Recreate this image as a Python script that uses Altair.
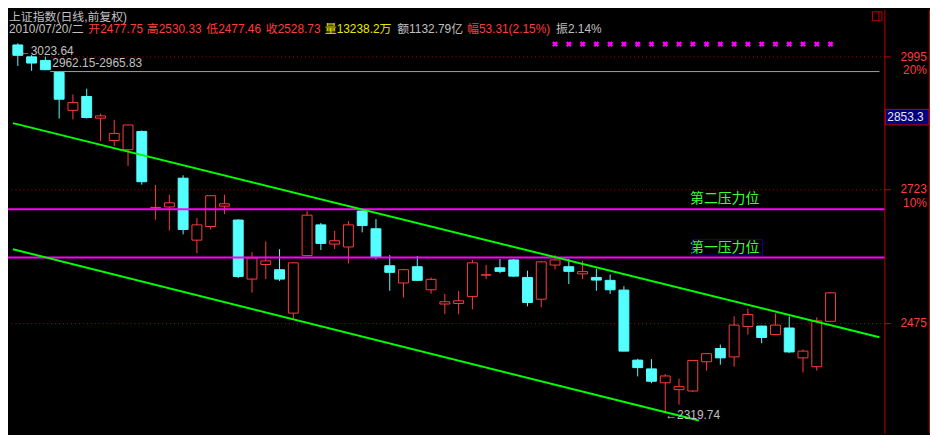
import altair as alt
import pandas as pd

# ---------------- data ----------------
opens = [3020.0, 2994.4, 2986.7, 2961.0, 2881.8, 2910.6, 2865.8, 2820.3, 2801.8, 2838.6,
         2687.3, 2689.1, 2745.2, 2626.0, 2651.8, 2690.8, 2664.1, 2553.8, 2580.6, 2571.0,
         2492.3, 2597.1, 2654.9, 2618.6, 2613.2, 2681.4, 2647.5, 2578.3, 2546.7, 2576.5,
         2534.3, 2508.6, 2509.6, 2521.9, 2561.1, 2574.6, 2589.1, 2556.8, 2517.3, 2579.6,
         2576.5, 2563.4, 2556.8, 2551.5, 2533.8, 2409.8, 2394.7, 2371.0, 2359.4, 2357.1,
         2407.0, 2430.0, 2415.4, 2468.6, 2469.3, 2454.3, 2465.9, 2413.7, 2398.5, 2477.75]
highs = [3023.64, 2998.0, 2995.0, 2962.15, 2914.7, 2926.9, 2875.0, 2862.4, 2852.4, 2840.5,
         2731.8, 2712.8, 2750.9, 2667.9, 2712.0, 2712.8, 2665.5, 2603.5, 2623.6, 2609.0,
         2585.0, 2681.4, 2658.6, 2643.8, 2662.2, 2683.3, 2666.0, 2598.1, 2572.8, 2596.3,
         2556.8, 2526.7, 2532.0, 2589.1, 2580.1, 2590.9, 2590.9, 2569.3, 2587.3, 2598.1,
         2590.9, 2587.3, 2572.8, 2562.1, 2540.9, 2412.0, 2411.5, 2385.9, 2378.1, 2409.8,
         2421.5, 2436.8, 2486.6, 2500.4, 2470.0, 2491.7, 2486.6, 2428.3, 2484.9, 2530.33]
lows = [2974.9, 2964.5, 2965.83, 2865.0, 2863.0, 2865.0, 2819.5, 2809.0, 2769.0, 2732.4,
        2664.7, 2644.4, 2637.0, 2601.7, 2646.2, 2675.3, 2555.6, 2529.0, 2553.8, 2550.2,
        2480.8, 2596.0, 2607.6, 2609.5, 2582.4, 2640.7, 2589.6, 2532.5, 2520.2, 2550.2,
        2527.2, 2490.5, 2490.5, 2499.2, 2553.8, 2564.5, 2558.0, 2504.4, 2502.7, 2571.5,
        2544.9, 2553.8, 2532.5, 2526.7, 2425.0, 2381.9, 2370.3, 2319.74, 2334.2, 2355.4,
        2391.8, 2401.9, 2398.5, 2454.3, 2439.0, 2453.5, 2422.3, 2388.5, 2391.8, 2477.46]
closes = [2997.7, 2981.1, 2967.0, 2904.9, 2897.8, 2867.0, 2870.4, 2834.6, 2851.8, 2738.2,
          2688.4, 2697.2, 2646.2, 2654.9, 2710.9, 2695.3, 2558.6, 2592.7, 2587.3, 2553.8,
          2583.7, 2673.4, 2619.9, 2624.9, 2654.9, 2653.6, 2594.5, 2566.2, 2571.0, 2551.5,
          2553.3, 2512.6, 2514.4, 2583.7, 2561.6, 2568.0, 2559.2, 2511.4, 2585.5, 2589.1,
          2568.0, 2567.5, 2552.0, 2534.3, 2425.4, 2396.9, 2373.6, 2382.6, 2364.4, 2409.3,
          2421.0, 2413.7, 2471.0, 2490.0, 2449.2, 2471.0, 2424.0, 2425.4, 2478.4, 2528.73]

# trend channel (two endpoints per line: bar index, price)
chan_names = ["upper", "upper", "lower", "lower"]
chan_idx = [-0.353, 62.55, -0.353, 49.44]
chan_price = [2855.6, 2449.5, 2609.0, 2307.7]

# resistance levels
resist_prices = [2684.8, 2593.6]
resist_labels = ["第二压力位", "第一压力位"]
resist_label_idx = [48.8, 48.8]

# gap level line
gap_price = [2963.0]
gap_from = [2.35]

# signal marks (bar indices)
signal_idx = list(range(39, 60))

# right-axis ticks
tick_values = [2475, 2723, 2995]
tick_pct = {2995: "20%", 2723: "10%"}

# header
title_text = "上证指数(日线,前复权)"
header_texts = ["2010/07/20/二", "开2477.75", "高2530.33", "低2477.46", "收2528.73",
                "量13238.2万", "额1132.79亿", "幅53.31(2.15%)", "振2.14%"]
cursor_value = "2853.3"

# ---------------- styling / layout ----------------
CYAN = "#54ffff"
RED = "#ff3c3c"
GRAY = "#c0c0c0"
YELLOW = "#e8e800"
MAGENTA = "#ff00ff"
GREEN = "#00ff00"
DARKRED = "#c00000"
FONT = "Liberation Sans, Noto Sans CJK SC"

W, H, AXW = 884, 427, 46
X_DOMAIN = [-0.353, 62.55]
Y_DOMAIN = [2287.0, 3096.9]

header_colors = [GRAY, RED, RED, RED, RED, YELLOW, GRAY, RED, GRAY]
header_x = [1, 81, 140, 200, 260, 319.5, 392.6, 463, 552.8]

xs = alt.Scale(domain=X_DOMAIN, nice=False, zero=False)
ys = alt.Scale(type="log", domain=Y_DOMAIN, nice=False, zero=False)

label_expr = " : ".join(
    [f"datum.value == {v} ? ['{v}', '{p}']" for v, p in tick_pct.items()]
) + " : datum.label"

yaxis = alt.Axis(
    orient="right", values=tick_values, format="d", labelExpr=label_expr,
    labelColor=RED, labelFont="Liberation Sans", labelFontSize=12,
    labelAlign="right", labelBaseline="top", labelOffset=-5.5, labelPadding=36.3,
    labelLineHeight=14, labelOverlap=False, labelFlush=False, labelBound=False,
    tickColor=DARKRED, tickSize=6, tickWidth=1,
    domainColor=DARKRED, domainWidth=1,
    grid=True, gridColor="#b40000", gridDash=[1, 3], gridWidth=1,
    title=None, minExtent=AXW, maxExtent=AXW,
)


def X(f):
    return alt.X(f, type="quantitative", scale=xs, axis=None)


def Y(f):
    return alt.Y(f, type="quantitative", scale=ys, axis=yaxis)


df = pd.DataFrame({"idx": list(range(len(opens))), "open": opens, "high": highs,
                   "low": lows, "close": closes})
df["dir"] = ["up" if c >= o else "down" for o, c in zip(opens, closes)]

dir_scale_line = alt.Scale(domain=["up", "down"], range=[RED, CYAN])
dir_scale_fill = alt.Scale(domain=["up", "down"], range=["#000000", CYAN])

wicks = alt.Chart(df).mark_rule(strokeWidth=1).encode(
    x=X("idx"), y=Y("low"), y2="high",
    color=alt.Color("dir:N", scale=dir_scale_line, legend=None),
)
bodies = alt.Chart(df).mark_bar(size=10, strokeWidth=1).encode(
    x=X("idx"), y=Y("open"), y2="close",
    fill=alt.Fill("dir:N", scale=dir_scale_fill, legend=None),
    stroke=alt.Stroke("dir:N", scale=dir_scale_line, legend=None),
)

res_df = pd.DataFrame({"price": resist_prices, "label": resist_labels, "idx": resist_label_idx})
resist = alt.Chart(res_df).mark_rule(strokeWidth=2, color=MAGENTA).encode(y=Y("price"))
resist_text = alt.Chart(res_df).mark_text(
    font="Noto Sans CJK SC", fontSize=14, color="#3cff3c", align="left", baseline="middle", dy=-10
).encode(x=X("idx"), y=Y("price"), text="label")

gap_df = pd.DataFrame({"price": gap_price, "start": gap_from, "end": [X_DOMAIN[1]]})
gap = alt.Chart(gap_df).mark_rule(strokeWidth=1, color="#a0a0a0").encode(
    x=X("start"), x2="end", y=Y("price"))

chan_df = pd.DataFrame({"line": chan_names, "idx": chan_idx, "price": chan_price})
channel = alt.Chart(chan_df).mark_line(strokeWidth=2, color=GREEN).encode(
    x=X("idx"), y=Y("price"), detail="line:N")

hi_df = pd.DataFrame({"idx": [0], "price": [highs[0]], "t": [f"←{highs[0]:.2f}"]})
hi_text = alt.Chart(hi_df).mark_text(font=FONT, fontSize=12, color=GRAY, align="left",
                                     baseline="middle", dx=1, dy=8).encode(
    x=X("idx"), y=Y("price"), text="t")
gap_txt_df = pd.DataFrame({"idx": [2], "price": [lows[2]],
                           "t": [f"{highs[3]:.2f}-{lows[2]:.2f}"]})
gap_text = alt.Chart(gap_txt_df).mark_text(font=FONT, fontSize=12, color=GRAY, align="left",
                                           baseline="middle", dx=7, dy=-7.5).encode(
    x=X("idx"), y=Y("price"), text="t")
lo_i = lows.index(min(lows))
lo_df = pd.DataFrame({"idx": [lo_i], "price": [lows[lo_i]], "t": [f"←{lows[lo_i]:.2f}"]})
lo_text = alt.Chart(lo_df).mark_text(font=FONT, fontSize=12, color=GRAY, align="left",
                                     baseline="middle", dx=0, dy=2).encode(
    x=X("idx"), y=Y("price"), text="t")

sig_df = pd.DataFrame({"idx": signal_idx})
signals = alt.Chart(sig_df).mark_point(shape="cross", angle=45, filled=True, size=36,
                                       color=MAGENTA, opacity=1).encode(
    x=X("idx"), y=alt.value(34.6))

one = pd.DataFrame({"a": [0]})
box1 = alt.Chart(one).mark_rect(fill="transparent", stroke="#0000a8", strokeWidth=1).encode(
    x=alt.value(690.7), x2=alt.value(761), y=alt.value(231.7), y2=alt.value(247.4))

header = [alt.Chart(one).mark_text(font=FONT, fontSize=12, color=GRAY, align="left",
                                   baseline="middle").encode(
    x=alt.value(1), y=alt.value(6.9), text=alt.value(title_text))]
for t, c, xx in zip(header_texts, header_colors, header_x):
    header.append(alt.Chart(one).mark_text(font=FONT, fontSize=12, color=c, align="left",
                                           baseline="middle").encode(
        x=alt.value(xx), y=alt.value(19.6), text=alt.value(t)))

price_box = alt.Chart(one).mark_rect(fill="#000080", stroke=DARKRED, strokeWidth=1).encode(
    x=alt.value(W + 1), x2=alt.value(W + AXW - 1), y=alt.value(100.4), y2=alt.value(116))
price_box_text = alt.Chart(one).mark_text(font="Liberation Sans", fontSize=12, color="#e8e8e8",
                                          align="left", baseline="middle").encode(
    x=alt.value(W + 3), y=alt.value(108.4), text=alt.value(cursor_value))

icon = alt.Chart(one).mark_rect(fill="transparent", stroke=DARKRED, strokeWidth=1).encode(
    x=alt.value(W - 12), x2=alt.value(W - 2.5), y=alt.value(2), y2=alt.value(11))
icon_div = alt.Chart(one).mark_rule(color=DARKRED, strokeWidth=1).encode(
    x=alt.value(W - 5.5), y=alt.value(2), y2=alt.value(11))
border = alt.Chart(one).mark_rule(color=DARKRED, strokeWidth=1).encode(
    x=alt.value(W + AXW - 0.5), y=alt.value(0), y2=alt.value(H))

chart = alt.layer(
    wicks, bodies, resist, gap, channel, resist_text, box1,
    hi_text, gap_text, lo_text, signals, *header,
    price_box, price_box_text, icon, icon_div, border,
).properties(
    width=W, height=H, background="#000000",
    padding={"left": 0, "top": 0, "right": AXW, "bottom": 0},
    autosize=alt.AutoSizeParams(type="none"),
).configure_view(stroke=None)

chart.save("out.html", embed_options={"renderer": "svg", "actions": False})
